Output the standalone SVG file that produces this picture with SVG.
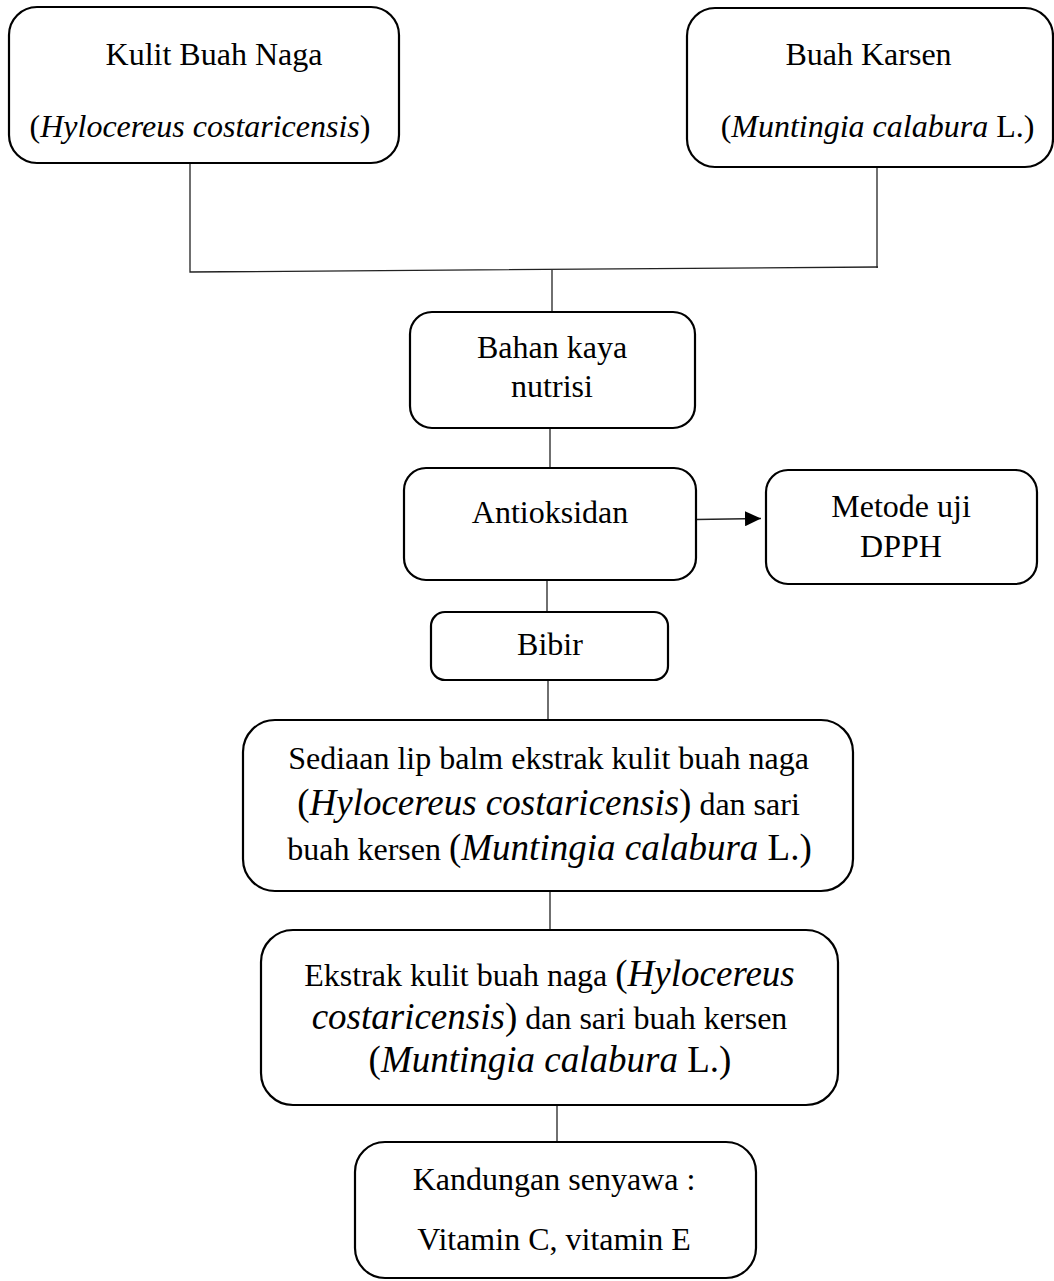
<svg xmlns="http://www.w3.org/2000/svg" width="1054" height="1281" viewBox="0 0 1054 1281">
  <defs>
    <marker id="arrowhead" markerWidth="16" markerHeight="15" refX="16" refY="7.5" orient="auto" markerUnits="userSpaceOnUse">
      <path d="M0,0 L16,7.5 L0,15 Z" fill="#000"/>
    </marker>
    <style>
      .box { fill: #fff; stroke: #000; stroke-width: 2.2; }
      .line { fill: none; stroke: #222; stroke-width: 1.3; }
      text { font-family: "Liberation Serif", "Times New Roman", serif; font-size: 32px; fill: #000; text-anchor: middle; }
      .it { font-style: italic; }
      .big { font-size: 37px; }
    </style>
  </defs>

  <rect width="1054" height="1281" fill="#fff"/>

  <!-- connectors -->
  <g id="connectors">
    <polyline class="line" points="190,163 190,272 878,267"/>
    <line class="line" x1="877" y1="167" x2="877" y2="268"/>
    <line class="line" x1="552" y1="270" x2="552" y2="312"/>
    <line class="line" x1="550" y1="428" x2="550" y2="468"/>
    <line class="line" x1="696" y1="519.5" x2="761" y2="518.5" marker-end="url(#arrowhead)"/>
    <line class="line" x1="547" y1="580" x2="547" y2="612"/>
    <line class="line" x1="548" y1="680" x2="548" y2="720"/>
    <line class="line" x1="550" y1="891" x2="550" y2="930"/>
    <line class="line" x1="557" y1="1105" x2="557" y2="1142"/>
  </g>

  <!-- source: dragon fruit peel -->
  <g id="node-kulit-buah-naga">
    <rect class="box" x="9" y="7" width="390" height="156" rx="28" ry="28"/>
    <text x="214" y="65">Kulit Buah Naga</text>
    <text x="200" y="137">(<tspan class="it">Hylocereus costaricensis</tspan>)</text>
  </g>

  <!-- source: Jamaican cherry -->
  <g id="node-buah-karsen">
    <rect class="box" x="687" y="8" width="366" height="159" rx="28" ry="28"/>
    <text x="868.5" y="65">Buah Karsen</text>
    <text x="877.5" y="137">(<tspan class="it">Muntingia calabura</tspan> L.)</text>
  </g>

  <g id="node-bahan-kaya-nutrisi">
    <rect class="box" x="410" y="312" width="285" height="116" rx="22" ry="22"/>
    <text x="552" y="358">Bahan kaya</text>
    <text x="552" y="397">nutrisi</text>
  </g>

  <g id="node-antioksidan">
    <rect class="box" x="404" y="468" width="292" height="112" rx="22" ry="22"/>
    <text x="550" y="523">Antioksidan</text>
  </g>

  <g id="node-metode-dpph">
    <rect class="box" x="766" y="470" width="271" height="114" rx="22" ry="22"/>
    <text x="901" y="517">Metode uji</text>
    <text x="901" y="557">DPPH</text>
  </g>

  <g id="node-bibir">
    <rect class="box" x="431" y="612" width="237" height="68" rx="14" ry="14"/>
    <text x="550" y="655">Bibir</text>
  </g>

  <g id="node-sediaan-lip-balm">
    <rect class="box" x="243" y="720" width="610" height="171" rx="32" ry="32"/>
    <text x="548.5" y="769">Sediaan lip balm ekstrak kulit buah naga</text>
    <text x="548.5" y="815"><tspan class="big">(</tspan><tspan class="it big">Hylocereus costaricensis</tspan><tspan class="big">)</tspan> dan sari</text>
    <text x="549.5" y="860">buah kersen <tspan class="big">(</tspan><tspan class="it big">Muntingia calabura</tspan><tspan class="big"> L.)</tspan></text>
  </g>

  <g id="node-ekstrak">
    <rect class="box" x="261" y="930" width="577" height="175" rx="32" ry="32"/>
    <text x="549.5" y="986">Ekstrak kulit buah naga <tspan class="big">(</tspan><tspan class="it big">Hylocereus</tspan></text>
    <text x="549.5" y="1029"><tspan class="it big">costaricensis</tspan><tspan class="big">)</tspan> dan sari buah kersen</text>
    <text x="550" y="1072"><tspan class="big">(</tspan><tspan class="it big">Muntingia calabura</tspan><tspan class="big"> L.)</tspan></text>
  </g>

  <g id="node-kandungan-senyawa">
    <rect class="box" x="355" y="1142" width="401" height="136" rx="30" ry="30"/>
    <text x="554" y="1190">Kandungan senyawa :</text>
    <text x="554" y="1250">Vitamin C, vitamin E</text>
  </g>
</svg>
